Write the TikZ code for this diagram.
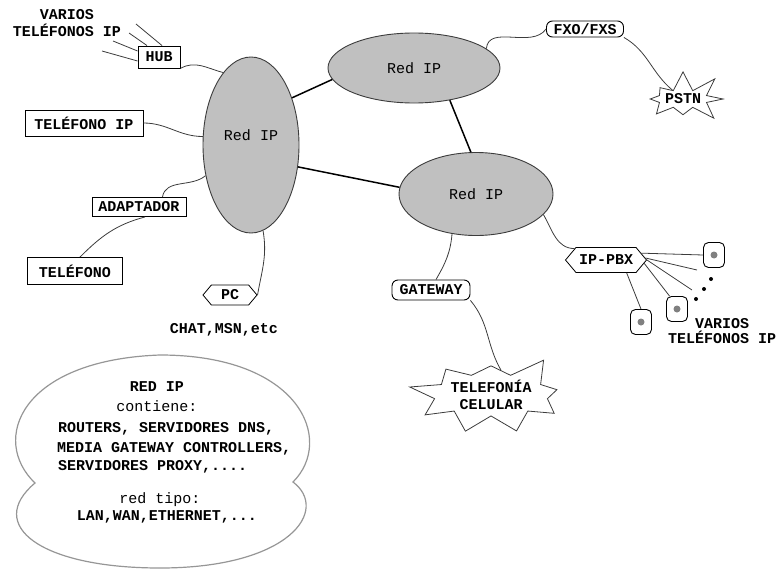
\documentclass[tikz,border=0pt]{standalone}
\usepackage{fontspec}
\setmonofont{Liberation Mono}
\usetikzlibrary{shapes.geometric,shapes.symbols}
\definecolor{ipfill}{RGB}{192,192,192}
\definecolor{wiregray}{RGB}{60,60,60}
\definecolor{cloudline}{RGB}{150,150,150}
\definecolor{dotgray}{RGB}{128,128,128}
\tikzset{
    every node/.style={inner sep=0pt, font=\ttfamily\bfseries\fontsize{15}{17}\selectfont}
}
\tikzset{
    redip/.style={ellipse, draw=wiregray, fill=ipfill, line width=0.9pt, font=\ttfamily\fontsize{15}{17}\selectfont},
    box/.style={rectangle, draw, line width=0.9pt},
    rbox/.style={rectangle, draw, line width=0.9pt, rounded corners=6pt},
    hexbox/.style={signal, signal to=west and east, signal pointer angle=100, draw, line width=0.8pt},
    burst/.style={starburst, draw=wiregray, line width=0.8pt},
    phone/.style={rectangle, draw, line width=0.9pt, rounded corners=5pt, minimum width=21pt, minimum height=25pt,
        path picture={\fill[dotgray] (path picture bounding box.center) circle (3.5pt);}},
    wire/.style={draw=wiregray, line width=0.8pt},
    link/.style={draw=black, line width=1.5pt}
}

\begin{document}
\begin{tikzpicture}[x=1pt, y=1pt]
        \useasboundingbox (0,0) rectangle (778,-570);
        \draw [cloudline, line width=1.2pt, fill=white] (35,-483) .. controls (-10,-440) and (20,-360) .. (160,-355)
            .. controls (300,-355) and (335,-440) .. (293,-482) .. controls (330,-510) and (290,-568) .. (160,-568)
            .. controls (40,-568) and (-15,-525) .. (35,-483) -- cycle;
        \node (lred) [redip, minimum width=96pt, minimum height=176pt, text depth=19pt] at (251,-145) {Red IP};
        \node (tred) [redip, minimum width=172pt, minimum height=70pt] at (414,-68) {Red IP};
        \node (rred) [redip, minimum width=154pt, minimum height=83pt] at (476,-194) {Red IP};
        \node (hub) [box, minimum width=42pt, minimum height=22pt] at (159,-57) {HUB};
        \node (tip) [box, minimum width=118pt, minimum height=26pt] at (84,-123) {TELÉFONO IP};
        \node (ada) [box, minimum width=94pt, minimum height=19pt] at (139,-207) {ADAPTADOR};
        \node (tel) [box, minimum width=95pt, minimum height=27pt] at (75,-271) {TELÉFONO};
        \node (pc) [hexbox, minimum width=54pt, minimum height=20pt] at (230,-295) {PC};
        \node (fxo) [rbox, minimum width=77pt, minimum height=16pt] at (585,-29) {FXO/FXS};
        \node (gw) [rbox, minimum width=78pt, minimum height=20pt] at (431,-290) {GATEWAY};
        \node (pbx) [hexbox, minimum width=81pt, minimum height=25pt] at (606,-260) {IP-PBX};
        \node (pstn) [burst, starburst points=8, starburst point height=20pt, random starburst=7, minimum width=78pt, minimum height=58pt] at (683,-99) {PSTN};
        \node (cel) [burst, starburst points=9, starburst point height=26pt, random starburst=3, minimum width=134pt, minimum height=90pt, align=center] at (491,-395) {TELEFONÍA\\CELULAR};
        \node (ph1) [phone] at (714,-255) {};
        \node (ph2) [phone] at (677,-309) {};
        \node (ph3) [phone] at (641,-322) {};
        \node (varios1) [align=center] at (67,-23) {VARIOS\\TELÉFONOS IP};
        \node (varios2) [align=center, font=\ttfamily\bfseries\fontsize{15}{15}\selectfont] at (722,-331) {VARIOS\\TELÉFONOS IP};
        \node (chat) at (224,-330) {CHAT,MSN,etc};
        \node (c1) at (157,-387) {RED IP};
        \node (c2) [font=\ttfamily\fontsize{15}{17}\selectfont] at (157,-406) {contiene:};
        \node (c3) [anchor=west] at (58,-429) {ROUTERS, SERVIDORES DNS,};
        \node (c4) [anchor=west] at (57,-449) {MEDIA GATEWAY CONTROLLERS,};
        \node (c5) [anchor=west] at (58,-467) {SERVIDORES PROXY,....};
        \node (c6) [font=\ttfamily\fontsize{15}{17}\selectfont] at (160,-500) {red tipo:};
        \node (c7) at (167,-517) {LAN,WAN,ETHERNET,...};
        \coordinate (h1) at (102,-51);
        \coordinate (h2) at (113,-41);
        \coordinate (h3) at (129,-33);
        \coordinate (h4) at (136,-24);
        \coordinate (d1) at (697,-270);
        \coordinate (d2) at (692,-290);
        \draw (lred.49) edge [link] (tred.188);
        \draw (tred.-42) edge [link] (rred.97);
        \draw (lred.-25) edge [link] (rred.175);
        \draw (hub.south east) edge [wire, out=30, in=165] (lred.111);
        \draw (tip.east) edge [wire, out=0, in=180] (lred.170);
        \draw (lred.214) edge [wire, out=-140, in=80] (ada.23);
        \draw ([xshift=6pt]ada.south) edge [wire, out=195, in=45] ([xshift=5pt]tel.north);
        \draw (lred.-82) edge [wire, out=-80, in=80] (pc.east);
        \draw (tred.15) edge [wire, out=85, in=235] (fxo.west);
        \draw (fxo.south east) edge [wire, out=-30, in=140] (pstn);
        \draw (rred.-17) edge [wire, out=-60, in=180] (pbx.160);
        \draw (rred.-121) edge [wire, out=-95, in=60] ([xshift=5pt]gw.north);
        \draw (gw.south east) edge [wire, out=-50, in=120] (cel.68);
        \draw ([yshift=-4pt]hub.west) edge [wire] (h1);
        \draw ([yshift=6pt]hub.west) edge [wire] (h2);
        \draw ([xshift=-12pt]hub.north) edge [wire] (h3);
        \draw ([xshift=3pt]hub.north) edge [wire] (h4);
        \draw (pbx.11) edge [wire] (ph1.west);
        \draw (pbx.3) edge [wire] (d1);
        \draw (pbx.east) edge [wire] (d2);
        \draw (pbx.-5) edge [wire] (ph2.120);
        \draw (pbx.-32) edge [wire] (ph3.north);
        \fill (711,-279) circle (2pt);
        \fill (704,-289) circle (2pt);
        \fill (696,-299) circle (2pt);
\end{tikzpicture}
\end{document}
